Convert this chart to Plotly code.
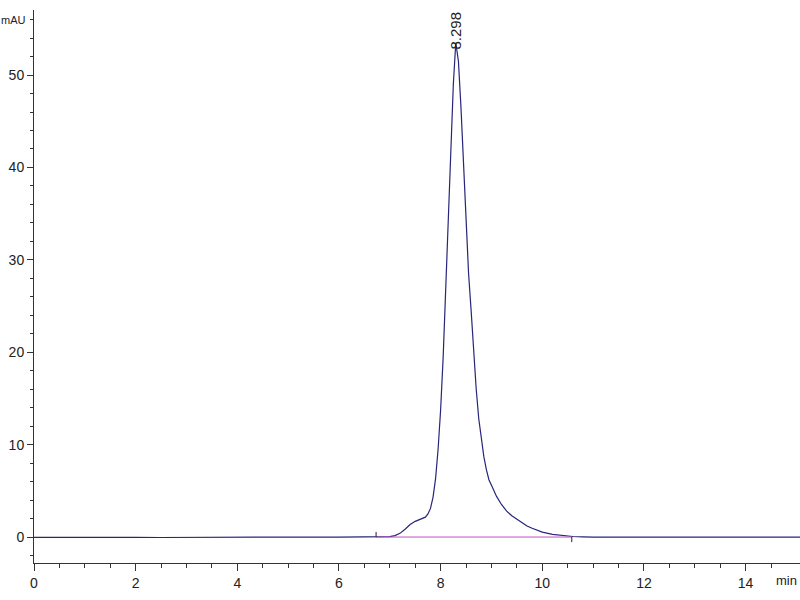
import plotly.graph_objects as go

# Chromatogram signal (time in min, absorbance in mAU)
time_min = [0.0, 0.5, 1.0, 1.5, 2.0, 2.5, 3.0, 3.5, 4.0, 5.0, 6.0, 6.5, 6.7, 6.9, 7.0, 7.1, 7.2, 7.3,
            7.4, 7.5, 7.6, 7.7, 7.75, 7.8, 7.85, 7.9, 7.95, 8.0, 8.05, 8.1, 8.15, 8.2, 8.25,
            8.298, 8.35, 8.4, 8.45, 8.5, 8.55, 8.6, 8.65, 8.7, 8.75, 8.8, 8.85, 8.9, 8.95,
            9.0, 9.1, 9.2, 9.3, 9.4, 9.5, 9.6, 9.7, 9.8, 9.9, 10.0, 10.2, 10.4, 10.6, 10.8,
            11.0, 12.0, 13.0, 13.2, 14.0, 15.07]
signal_mau = [-0.03, -0.05, -0.03, -0.05, -0.04, -0.05, -0.03, -0.05, -0.02, 0.0, 0.0, 0.0, 0.0, 0.02, 0.05, 0.15, 0.4, 0.85,
              1.35, 1.7, 1.9, 2.15, 2.5, 3.1, 4.3, 6.3, 9.5, 13.8, 19.5, 26.5, 33.5, 40.5, 49.0,
              53.5, 51.5, 46.5, 40.5, 34.0, 28.5, 24.5, 20.0, 16.0, 12.8, 10.5, 8.7, 7.3, 6.2,
              5.6, 4.4, 3.5, 2.8, 2.3, 1.95, 1.55, 1.2, 0.95, 0.72, 0.53, 0.28, 0.13, 0.06, 0.02,
              0.0, 0.0, 0.0, -0.05, 0.0, 0.0]

# Integration baseline
baseline_t = [6.73, 10.58]
baseline_v = [0.0, 0.0]

peak_rt = 8.298
peak_label = "8.298"
peak_height = 53.5

y_tickvals = [0, 10, 20, 30, 40, 50, 56]
y_ticktext = ["0", "10", "20", "30", "40", "50", ""]
y_unit = "mAU"
y_unit_pos = 56
x_tickvals = [0, 2, 4, 6, 8, 10, 12, 14]
x_unit = "min"

font_fam = "Liberation Sans Narrow, Arial Narrow, Liberation Sans, sans-serif"

fig = go.Figure()
fig.add_trace(go.Scatter(x=time_min, y=signal_mau, mode="lines",
                         line=dict(color="#26267a", width=1.2), hoverinfo="skip"))
fig.add_trace(go.Scatter(x=baseline_t, y=baseline_v, mode="lines",
                         line=dict(color="#c050c0", width=1), hoverinfo="skip"))
# baseline start/end markers
fig.add_trace(go.Scatter(x=[baseline_t[0], baseline_t[0], None, baseline_t[1], baseline_t[1]],
                         y=[0, 0.55, None, 0, -0.55], mode="lines",
                         line=dict(color="#222222", width=1), hoverinfo="skip"))

fig.add_annotation(x=peak_rt, y=peak_height, text=peak_label, textangle=-90,
                   showarrow=False, yanchor="bottom", xanchor="center", yshift=-9,
                   font=dict(family=font_fam, size=15, color="#222222"))
fig.add_annotation(x=0, xref="paper", y=y_unit_pos, yref="y", text=y_unit, showarrow=False,
                   xanchor="right", yanchor="middle", xshift=-6,
                   font=dict(family=font_fam, size=11, color="#222222"))
fig.add_annotation(x=1.0, y=0, xref="paper", yref="paper", text=x_unit, showarrow=False,
                   xanchor="right", yanchor="top", yshift=-8, xshift=-1,
                   font=dict(family=font_fam, size=13, color="#222222"))

fig.update_layout(
    width=800, height=600,
    margin=dict(l=34, r=0, t=10, b=37, autoexpand=False),
    paper_bgcolor="white", plot_bgcolor="white",
    showlegend=False,
    font=dict(family=font_fam, size=14, color="#222222"),
    xaxis=dict(range=[0, 15.07], tickvals=x_tickvals, ticktext=[str(v) for v in x_tickvals],
               ticks="outside", ticklen=7,
               tickcolor="#333333", showline=True, linecolor="#333333", linewidth=1,
               showgrid=False, zeroline=False, automargin=False,
               minor=dict(tickvals=[v / 2 for v in range(0, 30)], ticks="outside", ticklen=4,
                          tickcolor="#333333")),
    yaxis=dict(range=[-2.81, 57.04], tickvals=y_tickvals, ticktext=y_ticktext,
               ticks="outside", ticklen=6, tickcolor="#333333", showline=True,
               linecolor="#333333", linewidth=1, showgrid=False, zeroline=False,
               automargin=False,
               minor=dict(tickvals=list(range(-2, 57, 2)), ticks="outside", ticklen=3,
                          tickcolor="#333333")),
)

fig.write_html("out.html", config={"displayModeBar": False},
               post_script="document.body.style.margin='0';")
